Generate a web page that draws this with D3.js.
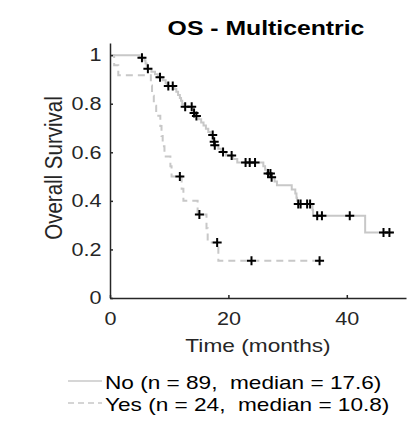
<!DOCTYPE html>
<html>
<head>
<meta charset="utf-8">
<script src="https://cdn.jsdelivr.net/npm/d3@7"></script>
<style>
  body { margin: 0; background: #fff; }
  text { font-family: "Liberation Sans", Arial, sans-serif; white-space: pre; }
</style>
</head>
<body>
<div id="chart"></div>
<script>
/* Kaplan-Meier curves, OS by multicentric status */

const width = 411,
    height = 433,
    margin = ({ top: 43, right: 5, bottom: 135, left: 110 });

const sx = 1.2; // text in the original is drawn wider than normal

// step points [months, survival] for each group
const noSteps = [
  [0, 1], [5.0, 0.989], [5.8, 0.978], [6.0, 0.966], [6.2, 0.955], [6.3, 0.944],
  [7.0, 0.932], [7.6, 0.921], [8.1, 0.909], [8.9, 0.897], [9.4, 0.885], [9.6, 0.873],
  [10.9, 0.861], [11.2, 0.849], [11.5, 0.836], [11.8, 0.824], [12.0, 0.812], [12.2, 0.799],
  [12.4, 0.787], [14.1, 0.762], [14.4, 0.749], [15.0, 0.736], [15.4, 0.723], [15.8, 0.710],
  [16.2, 0.697], [16.6, 0.684], [17.0, 0.671], [17.45, 0.657], [17.5, 0.643], [17.65, 0.629],
  [18.3, 0.615], [18.8, 0.601], [19.6, 0.587], [20.8, 0.572], [21.5, 0.558], [25.9, 0.543],
  [26.2, 0.528], [26.5, 0.513], [27.2, 0.497], [27.8, 0.480], [28.2, 0.464], [30.7, 0.447],
  [31.3, 0.430], [31.5, 0.413], [31.6, 0.400], [31.75, 0.387], [34.2, 0.363], [34.3, 0.339],
  [43.1, 0.270], [47.8, 0.270]
];
const noCensored = [5.4, 6.4, 8.45, 9.85, 10.6, 12.7, 13.8, 14.2, 14.6, 17.35, 17.6, 17.7,
  19.1, 20.55, 22.9, 23.6, 24.5, 26.7, 27.1, 27.3, 31.8, 32.2, 33.3, 33.8, 35.0, 35.8,
  40.5, 46.2, 47.2];

const yesSteps = [
  [0, 1], [0.7, 0.958], [1.4, 0.917], [6.9, 0.875], [7.1, 0.833], [7.4, 0.792],
  [7.8, 0.750], [8.5, 0.708], [8.7, 0.667], [8.9, 0.625], [9.2, 0.583], [10.2, 0.542],
  [10.4, 0.500], [12.1, 0.450], [12.4, 0.400], [14.8, 0.344], [16.3, 0.287], [16.5, 0.229],
  [18.3, 0.153], [35.4, 0.153]
];
const yesCensored = [11.8, 15.1, 18.1, 23.9, 35.4];

const xTicks = [0, 20, 40];
const yTicks = [0, 0.2, 0.4, 0.6, 0.8, 1];
const legendLabels = ["No (n = 89,  median = 17.6)", "Yes (n = 24,  median = 10.8)"];

const svg = d3.select("#chart")
    .append("svg")
    .attr("width", width)
    .attr("height", height);

let x = d3.scaleLinear()
    .domain([0, 50])
    .range([margin.left, width - margin.right]);

let y = d3.scaleLinear()
    .domain([0, 1.05])
    .range([height - margin.bottom, margin.top]);

// survival value of a step curve at time t
function survAt(steps, t) {
    let s = 1;
    for (let p of steps) { if (p[0] <= t) s = p[1]; }
    return s;
}

let line = d3.line()
    .x(d => x(d[0]))
    .y(d => y(d[1]))
    .curve(d3.curveStepAfter);

svg.append("path")
    .datum(noSteps)
    .attr("d", line)
    .attr("fill", "none")
    .attr("stroke", "#c8c8c8")
    .attr("stroke-width", 2);

svg.append("path")
    .datum(yesSteps)
    .attr("d", line)
    .attr("fill", "none")
    .attr("stroke", "#c8c8c8")
    .attr("stroke-width", 2)
    .attr("stroke-dasharray", "7,5");

// censor marks
let marks = noCensored.map(t => [t, survAt(noSteps, t)])
    .concat(yesCensored.map(t => [t, survAt(yesSteps, t)]));

svg.append("g")
    .selectAll("path")
    .data(marks)
    .join("path")
    .attr("d", d => `M${x(d[0]) - 4.5},${y(d[1])}h9M${x(d[0])},${y(d[1]) - 4.5}v9`)
    .attr("stroke", "#000")
    .attr("stroke-width", 2);

// axes, ticks point inward
let xAxis = svg.append("g")
    .attr("transform", `translate(0,${height - margin.bottom})`)
    .call(d3.axisBottom(x).tickValues(xTicks).tickFormat(d3.format("~g"))
        .tickSizeInner(-3).tickSizeOuter(0).tickPadding(14));

let yAxis = svg.append("g")
    .attr("transform", `translate(${margin.left},0)`)
    .call(d3.axisLeft(y).tickValues(yTicks).tickFormat(d3.format("~g"))
        .tickSizeInner(-3).tickSizeOuter(0));

for (let a of [xAxis, yAxis]) {
    a.select(".domain").attr("stroke", "#262626").attr("stroke-width", 1.5);
    a.selectAll(".tick line").attr("stroke", "#262626").attr("stroke-width", 1.5);
    a.selectAll(".tick text")
        .attr("fill", "#262626")
        .style("font-size", "18px")
        .style("font-family", "'Liberation Sans', Arial, sans-serif");
}
xAxis.selectAll(".tick text").attr("transform", `scale(${sx},1)`);
yAxis.selectAll(".tick text")
    .attr("x", -8.5 / sx)
    .attr("transform", `scale(${sx},1)`);

svg.append("text")
    .attr("transform", `translate(266,35) scale(1.18,1)`)
    .attr("text-anchor", "middle")
    .style("font-size", "21px")
    .style("font-weight", "bold")
    .attr("fill", "#000")
    .text("OS - Multicentric");

svg.append("text")
    .attr("transform", `translate(258,352) scale(1.26,1)`)
    .attr("text-anchor", "middle")
    .style("font-size", "18px")
    .attr("fill", "#262626")
    .text("Time (months)");

svg.append("text")
    .attr("transform", "translate(61.5,168) rotate(-90) scale(1,1.15)")
    .attr("text-anchor", "middle")
    .style("font-size", "20.5px")
    .attr("fill", "#262626")
    .text("Overall Survival");

// legend
let legend = svg.append("g");
legendLabels.forEach((lab, i) => {
    let ly = 381 + i * 22;
    legend.append("line")
        .attr("x1", 68).attr("x2", 102)
        .attr("y1", ly).attr("y2", ly)
        .attr("stroke", "#c8c8c8")
        .attr("stroke-width", 1.5)
        .attr("stroke-dasharray", i === 1 ? "6,4" : null);
    legend.append("text")
        .attr("transform", `translate(105,${ly + 7.5}) scale(1.19,1)`)
        .style("font-size", "19px")
        .attr("fill", "#000")
        .text(lab);
});
</script>
</body>
</html>
